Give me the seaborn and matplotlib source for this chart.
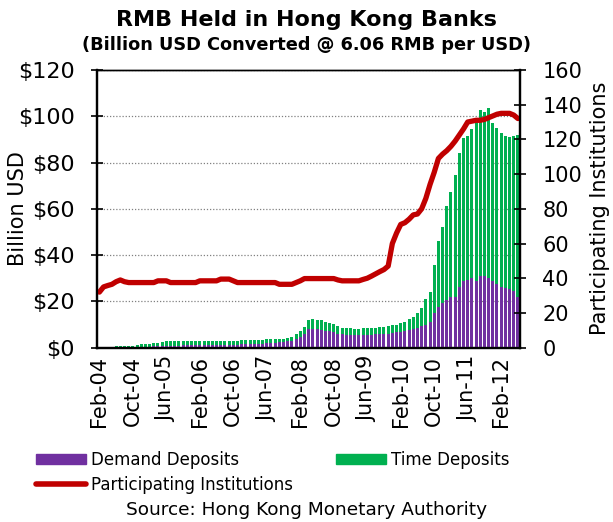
import numpy as np
import pandas as pd
import matplotlib
matplotlib.use("Agg")
import matplotlib.pyplot as plt
import seaborn as sns
from matplotlib.patches import Patch
from matplotlib.lines import Line2D

# -------------------------------
# Data, monthly Feb-04 .. Jun-12
# -------------------------------
months = pd.date_range("2004-02-01", periods=101, freq="MS").strftime("%b-%y").tolist()

# Demand deposits, billion USD
demand = [0.0, 0.05, 0.1, 0.1, 0.15, 0.15, 0.2, 0.2, 0.2, 0.3, 0.35,
          0.4, 0.45, 0.5, 0.55, 0.6, 0.7, 0.8, 0.85, 0.9, 0.95, 1.0, 1.05,
          1.1, 1.1, 1.1, 1.15, 1.15, 1.15, 1.2, 1.2, 1.2, 1.2, 1.25,
          1.5, 1.55, 1.6, 1.6, 1.65, 1.7, 2.1, 2.2, 2.2, 2.3, 2.4,
          2.7, 3.0, 3.9, 4.7, 5.8, 7.9, 8.0, 7.9, 7.8, 7.3, 7.0, 6.8,
          6.1, 5.8, 5.4, 5.3, 5.3, 5.3, 5.3, 5.5, 5.6, 5.8, 5.8, 6.1,
          6.1, 6.4, 6.6, 6.8, 7.2, 7.8, 8.1, 8.4, 9.3, 10.0, 11.2, 14.8,
          17.4, 19.2, 20.6, 22.1, 22.1, 26.1, 28.9, 29.4, 30.1, 28.7, 31.1,
          30.8, 30.1, 28.7, 27.3, 26.1, 25.7, 25.2, 24.6, 22.1]

# Time deposits, billion USD
time_dep = [0.1, 0.25, 0.35, 0.35, 0.4, 0.4, 0.4, 0.4, 0.4, 0.85, 1.05,
            1.2, 1.25, 1.35, 1.6, 1.8, 2.0, 2.2, 2.15, 2.1, 2.05, 2.0, 1.95,
            1.9, 1.9, 1.9, 1.85, 1.85, 1.85, 1.8, 1.8, 1.8, 1.8, 1.75,
            1.8, 1.75, 1.7, 1.7, 1.65, 1.6, 1.5, 1.7, 1.7, 1.6, 1.5,
            1.6, 1.5, 1.8, 2.5, 3.2, 4.2, 4.2, 4.2, 4.0, 3.6, 3.8, 3.5,
            3.3, 2.8, 3.2, 3.1, 2.9, 2.9, 3.0, 2.9, 2.9, 2.9, 3.1, 3.0,
            3.3, 3.4, 3.4, 3.7, 4.0, 4.5, 5.1, 6.4, 7.7, 11.0, 13.0, 21.0,
            28.7, 32.8, 40.6, 45.0, 52.4, 58.2, 61.7, 62.0, 64.3, 69.7, 71.6,
            71.2, 73.4, 68.4, 67.8, 66.7, 65.8, 65.7, 66.8, 70.0]

# Participating institutions (right axis)
institutions = [32, 35, 35.8, 36.5, 38, 39, 38,
                37.5, 37.5, 37.5, 37.5, 37.5, 37.5, 37.5,
                38.5, 38.5, 38.5,
                37.5, 37.5, 37.5, 37.5, 37.5, 37.5, 37.5,
                38.5, 38.5, 38.5, 38.5, 38.5,
                39.5, 39.5, 39.5, 38.5,
                37.5, 37.5, 37.5, 37.5, 37.5, 37.5, 37.5, 37.5, 37.5, 37.5,
                36.5, 36.5, 36.5, 36.5, 37.5, 38.5,
                39.8, 39.8, 39.8, 39.8, 39.8, 39.8, 39.8, 39.8, 39,
                38.5, 38.5, 38.5, 38.5, 38.5,
                39.3, 40, 41.2, 42.5, 43.8, 45, 47,
                60, 66, 71, 72, 74, 76.5, 77, 80, 86, 94, 101,
                109, 111.5, 113.5, 116, 119, 122.5, 126, 130, 130.5, 131, 131,
                131.5, 132.5, 133.5, 134.5, 135, 135, 135, 134, 132]

df = pd.DataFrame({"month": months, "demand": demand, "time": time_dep,
                   "inst": institutions})
df["pos"] = np.arange(len(df))
df["total"] = df["demand"] + df["time"]

purple = "#7030A0"
green = "#00B050"
red = "#C00000"

# -------------------------------
# Plot
# -------------------------------
sns.set_theme(style="white")
plt.rcParams["font.family"] = ["DejaVu Sans"]
plt.rcParams.update({"text.color": "black", "axes.labelcolor": "black",
                     "xtick.color": "black", "ytick.color": "black"})

fig = plt.figure(figsize=(6.13, 5.22), dpi=100)
ax = fig.add_axes([0.1587, 0.334, 0.6896, 0.532])

# stacked bars: time on top of demand
sns.barplot(data=df, x="pos", y="total", color=green, saturation=1,
            width=0.72, errorbar=None, native_scale=True, ax=ax,
            linewidth=0, edgecolor="none", zorder=2)
sns.barplot(data=df, x="pos", y="demand", color=purple, saturation=1,
            width=0.72, errorbar=None, native_scale=True, ax=ax,
            linewidth=0, edgecolor="none", zorder=3)

ax.set_xlim(-0.5, len(df) - 0.5)
ax.set_ylim(0, 120)
ax.set_yticks(range(0, 121, 20))
ax.set_yticklabels([f"${v}" for v in range(0, 121, 20)])
ax.yaxis.grid(True, linestyle=(0, (1, 1.5)), color="#808080", lw=0.9, zorder=0)
ax.set_axisbelow(True)

# tick marks at category boundaries, labels centred on the month
lab_idx = list(range(0, len(df), 8))
ax.set_xticks([i - 0.5 for i in lab_idx])
ax.set_xticklabels([])
ax.set_xticks(lab_idx, minor=True)
ax.set_xticklabels([months[i] for i in lab_idx], minor=True, rotation=90)
ax.tick_params(axis="x", which="minor", length=0, pad=6, labelsize=15)
ax.tick_params(axis="x", which="major", direction="out", length=5, width=1.5, color="black")
ax.tick_params(axis="y", direction="inout", length=8, width=1.2, color="black",
               labelsize=16, pad=12)
ax.set_xlabel("")
ax.set_ylabel("Billion USD", fontsize=15)
ax.yaxis.set_label_coords(-0.163, 0.5)

for side in ["left", "bottom", "right", "top"]:
    ax.spines[side].set_color("black")
    ax.spines[side].set_linewidth(1.6)
ax.spines["top"].set_linewidth(1.0)

ax2 = ax.twinx()
sns.lineplot(data=df, x="pos", y="inst", color=red, lw=3.8, ax=ax2,
             solid_capstyle="round", solid_joinstyle="round")
ax2.set_ylim(0, 160)
ax2.set_yticks(range(0, 161, 20))
ax2.tick_params(axis="y", direction="inout", length=8, width=1.2, color="black",
                labelsize=15, pad=12)
ax2.set_ylabel("Participating Institutions", fontsize=15, rotation=90)
ax2.yaxis.set_label_coords(1.165, 0.5)
ax2.set_xlabel("")
ax2.set_xlim(-0.5, len(df) - 0.5)
for side in ["left", "bottom", "right", "top"]:
    ax2.spines[side].set_color("black")
    ax2.spines[side].set_linewidth(1.6)
ax2.spines["top"].set_linewidth(1.0)

fig.text(0.5, 0.962, "RMB Held in Hong Kong Banks", ha="center", va="center",
         fontsize=16, fontweight="bold")
fig.text(0.5, 0.914, "(Billion USD Converted @ 6.06 RMB per USD)", ha="center",
         va="center", fontsize=12.8, fontweight="bold")

handles = [Patch(color=purple), Line2D([0], [0], color=red, lw=4),
           Patch(color=green)]
labels = ["Demand Deposits", "Participating Institutions", "Time Deposits"]
fig.legend(handles, labels, ncol=2, loc="upper left", bbox_to_anchor=(0.0587, 0.136),
           frameon=False, fontsize=12, handlelength=3.0, handleheight=0.55,
           handletextpad=0.3, columnspacing=2.6, labelspacing=0.4,
           borderaxespad=0, borderpad=0)

fig.text(0.5, 0.023, "Source: Hong Kong Monetary Authority", ha="center",
         va="center", fontsize=13.3)

plt.savefig("out.png", dpi=100)
